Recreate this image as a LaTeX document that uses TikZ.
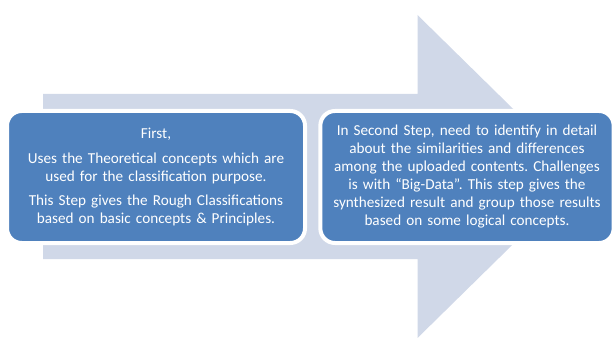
\documentclass[tikz,border=0pt]{standalone}
\usepackage{fontspec}
\setmainfont{Carlito}
\usetikzlibrary{positioning}
\definecolor{a1}{RGB}{208,216,232}
\definecolor{b1}{RGB}{79,129,189}
\frenchspacing

\begin{document}
\begin{tikzpicture}[
        x=0.75pt, y=-0.75pt,
        pane/.style={rectangle, draw=white, line width=3pt, rounded corners=11pt, fill=b1, text=white,
            font=\fontsize{11.4}{13.5}\selectfont, align=center, text width=216pt, inner sep=0pt, minimum height=99pt},
    ]
        \useasboundingbox (0, 0) rectangle (613, 338);

        % Big arrow (background)
        \fill[a1] (43, 94) -- (417.5, 94) -- (417.5, 15) -- (582, 176.5) -- (417.5, 338)
            -- (417.5, 259) -- (43, 259) -- cycle;

        % Step boxes
        \node[pane, minimum width=223.5pt] (first) at (156, 177) {First,\\[5pt]
            Uses the Theoretical concepts which are\\ used for the classification purpose.\\[5pt]
            This Step gives the Rough Classifications\\ based on basic concepts \& Principles.};
        \node[pane, minimum width=220pt] (second) at (467, 177) {In Second Step, need to identify in detail\\
            about the similarities and differences\\
            among the uploaded contents. Challenges\\
            is with “Big-Data”. This step gives the\\
            synthesized result and group those results\\
            based on some logical concepts.};
    \end{tikzpicture}
\end{document}
